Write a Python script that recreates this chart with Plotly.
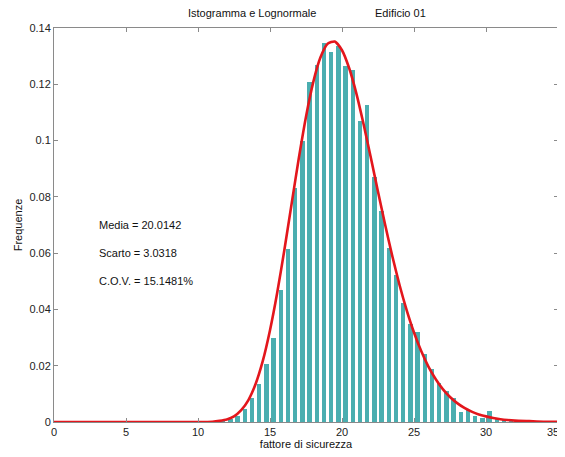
import plotly.graph_objects as go

# Histogram bin centres (bin width 0.5) and relative-frequency densities
bin_centers = [11.75, 12.25, 12.75, 13.25, 13.75, 14.25, 14.75, 15.25, 15.75, 16.25,
               16.75, 17.25, 17.75, 18.25, 18.75, 19.25, 19.75, 20.25, 20.75, 21.25,
               21.75, 22.25, 22.75, 23.25, 23.75, 24.25, 24.75, 25.25, 25.75, 26.25,
               26.75, 27.25, 27.75, 28.25, 28.75, 29.25, 29.75, 30.25, 30.75, 31.25, 31.75]
bin_freq = [0.0004, 0.0010, 0.0022, 0.0045, 0.0085, 0.0135, 0.0205, 0.0300, 0.0470, 0.0614,
            0.0830, 0.1000, 0.1207, 0.1270, 0.1345, 0.1314, 0.1335, 0.1264, 0.1250, 0.1069,
            0.1128, 0.0870, 0.0748, 0.0618, 0.0523, 0.0422, 0.0350, 0.0321, 0.0240, 0.0190,
            0.0140, 0.0110, 0.0085, 0.0037, 0.0043, 0.0022, 0.0016, 0.0040, 0.0012, 0.0007, 0.0003]

# Fitted lognormal curve
curve_x = [0, 5, 10, 11, 11.5, 12, 12.5, 13, 13.5, 14, 14.5, 15, 15.5, 16, 16.5, 17, 17.5,
           18, 18.5, 19, 19.5, 20, 20.5, 21, 21.5, 22, 22.5, 23, 23.5, 24, 24.5, 25, 25.5,
           26, 26.5, 27, 27.5, 28, 28.5, 29, 29.5, 30, 30.5, 31, 31.5, 32, 33, 34, 35]
curve_y = [0, 0, 0, 0.0001, 0.0004, 0.0009, 0.0020, 0.0042, 0.0078, 0.0135, 0.0217, 0.0326,
           0.0459, 0.0612, 0.0775, 0.0937, 0.1085, 0.1207, 0.1295, 0.1344, 0.1352, 0.1321,
           0.1257, 0.1167, 0.1058, 0.0940, 0.0818, 0.0700, 0.0588, 0.0486, 0.0396, 0.0318,
           0.0252, 0.0197, 0.0153, 0.0117, 0.0089, 0.0067, 0.0050, 0.0037, 0.0027, 0.0020,
           0.0014, 0.0010, 0.0007, 0.0005, 0.0003, 0.0001, 0.0001]

x_ticks = [0, 5, 10, 15, 20, 25, 30, 35]
x_tick_text = ["0", "5", "10", "15", "20", "25", "30", ""]   # last label drawn separately
x_last_label = "35"
y_ticks = [0, 0.02, 0.04, 0.06, 0.08, 0.1, 0.12, 0.14]
y_tick_text = ["0", "0.02", "0.04", "0.06", "0.08", "0.1", "0.12", "0.14"]

stats_labels = ["Media = 20.0142", "Scarto = 3.0318", "C.O.V. = 15.1481%"]
stats_y = [0.07, 0.06, 0.05]

FONT = "Liberation Sans, Arial, sans-serif"

fig = go.Figure()
fig.add_trace(go.Bar(x=bin_centers, y=bin_freq, width=0.3,
                     marker=dict(color="#4aaeb0", line=dict(width=0)),
                     showlegend=False))
fig.add_trace(go.Scatter(x=curve_x, y=curve_y, mode="lines",
                         line=dict(color="#e3161c", width=2.6, shape="spline", smoothing=0.6),
                         showlegend=False))

for lab, yy in zip(stats_labels, stats_y):
    fig.add_annotation(x=3, y=yy, xref="x", yref="y", text=lab, showarrow=False,
                       xanchor="left", yanchor="middle",
                       font=dict(family=FONT, size=11, color="#111"))

fig.add_annotation(x=0.524, y=1.038, xref="paper", yref="paper",
                   text="Istogramma e Lognormale", showarrow=False,
                   xanchor="right", yanchor="middle",
                   font=dict(family=FONT, size=11, color="#111"))
fig.add_annotation(x=0.633, y=1.038, xref="paper", yref="paper",
                   text="Edificio 01", showarrow=False,
                   xanchor="left", yanchor="middle",
                   font=dict(family=FONT, size=11, color="#111"))
fig.add_annotation(x=x_ticks[-1], y=0, xref="x", yref="y", text=x_last_label,
                   showarrow=False, xanchor="right", yanchor="top", xshift=3, yshift=-2,
                   font=dict(family=FONT, size=11, color="#222"))

axis_common = dict(showline=True, linecolor="#8a8a8a", linewidth=1, mirror="ticks",
                   ticks="inside", ticklen=4, tickcolor="#8a8a8a", showgrid=False,
                   zeroline=False, automargin=False,
                   tickfont=dict(family=FONT, size=11, color="#222"))

fig.update_xaxes(range=[0, 35], tickvals=x_ticks, ticktext=x_tick_text,
                 title=dict(text="fattore di sicurezza", standoff=2,
                            font=dict(family=FONT, size=11, color="#111")),
                 **axis_common)
fig.update_yaxes(range=[0, 0.14], tickvals=y_ticks, ticktext=y_tick_text,
                 title=dict(text="Frequenze", standoff=4,
                            font=dict(family=FONT, size=11, color="#111")),
                 **axis_common)

# page body has an 8px default margin, so the figure is sized to fit the window
fig.update_layout(width=557, height=449, margin=dict(l=46, r=7, t=20, b=35),
                  plot_bgcolor="white", paper_bgcolor="white", bargap=0)

fig.write_html("out.html")
